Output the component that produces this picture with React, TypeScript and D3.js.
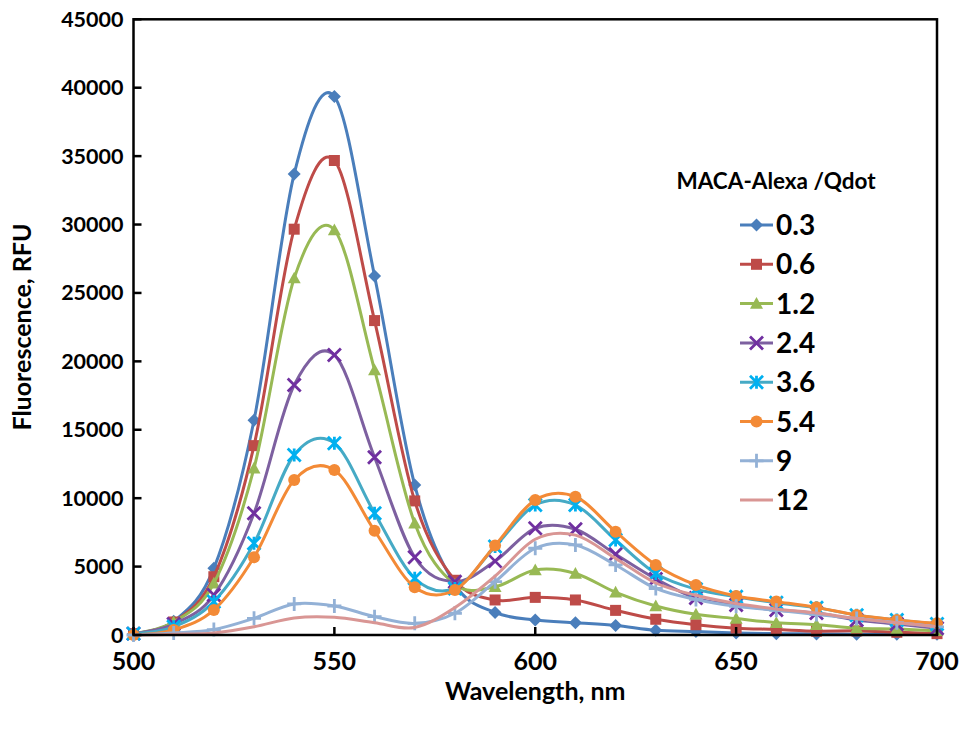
import React from "react";
import * as d3 from "d3";

const wavelengths = [500, 510, 520, 530, 540, 550, 560, 570, 580, 590, 600, 610, 620, 630, 640, 650, 660, 670, 680, 690, 700];

const s03 = [100, 1000, 4870, 15700, 33700, 39350, 26240, 10960, 3700, 1650, 1100, 900, 700, 350, 250, 150, 100, 80, 60, 50, 50];
const s06 = [100, 950, 4260, 13840, 29660, 34680, 22980, 9800, 4000, 2560, 2750, 2560, 1800, 1150, 750, 500, 400, 280, 300, 200, 100];
const s12a = [100, 950, 3780, 12190, 26080, 29600, 19370, 8170, 3700, 3530, 4750, 4500, 3120, 2120, 1510, 1200, 900, 750, 500, 440, 300];
const s24 = [100, 800, 2920, 8900, 18270, 20470, 12990, 5680, 3900, 5400, 7800, 7730, 5900, 4100, 2700, 2200, 1830, 1600, 1100, 800, 500];
const s36 = [100, 600, 2440, 6700, 13160, 14010, 8900, 4140, 3400, 6460, 9500, 9500, 6950, 4500, 3350, 2800, 2350, 2000, 1450, 1100, 800];
const s54 = [0, 370, 1830, 5680, 11330, 12060, 7620, 3490, 3290, 6550, 9870, 10110, 7550, 5120, 3660, 2850, 2440, 2020, 1460, 1100, 850];
const s9 = [0, 140, 400, 1220, 2270, 2120, 1340, 850, 1590, 3900, 6340, 6580, 5120, 3400, 2600, 2100, 1800, 1500, 1200, 900, 600];
const s12 = [0, 50, 150, 600, 1250, 1300, 900, 550, 2000, 4300, 7000, 7300, 5600, 3800, 2900, 2300, 1900, 1600, 1200, 900, 600];

const seriesNames = ["0.3", "0.6", "1.2", "2.4", "3.6", "5.4", "9", "12"];
const seriesValues = [s03, s06, s12a, s24, s36, s54, s9, s12];
const lineColors = ["#4A7EBB", "#BE4B48", "#98B954", "#7D60A0", "#46AAC5", "#F38A36", "#93B1D6", "#D99694"];
const markerColors = ["#4A7EBB", "#BE4B48", "#98B954", "#7030A0", "#00B0F0", "#F38A36", "#93B1D6", "none"];
const markerTypes = ["diamond", "square", "triangle", "x", "asterisk", "circle", "plus", "none"];

const xTicks = [500, 550, 600, 650, 700];
const yTicks = [0, 5000, 10000, 15000, 20000, 25000, 30000, 35000, 40000, 45000];

const legendTitle = "MACA-Alexa /Qdot";
const xTitle = "Wavelength, nm";
const yTitle = "Fluorescence, RFU";

const FONT = "Lato, 'Open Sans', sans-serif";

function Marker({ type, color, x, y }: { type: string; color: string; x: number; y: number }) {
  if (type === "diamond") {
    const r = 6.5;
    return <path d={`M${x},${y - r}L${x + r},${y}L${x},${y + r}L${x - r},${y}Z`} fill={color} />;
  }
  if (type === "square") {
    const r = 5.5;
    return <rect x={x - r} y={y - r} width={2 * r} height={2 * r} fill={color} />;
  }
  if (type === "triangle") {
    const r = 6.5;
    return <path d={`M${x},${y - r}L${x + r},${y + r * 0.8}L${x - r},${y + r * 0.8}Z`} fill={color} />;
  }
  if (type === "circle") {
    return <circle cx={x} cy={y} r={6} fill={color} />;
  }
  if (type === "x") {
    const r = 6.5;
    return (
      <path d={`M${x - r},${y - r}L${x + r},${y + r}M${x - r},${y + r}L${x + r},${y - r}`} stroke={color} strokeWidth={2.8} />
    );
  }
  if (type === "asterisk") {
    const r = 6.5;
    return (
      <path
        d={`M${x - r},${y - r}L${x + r},${y + r}M${x - r},${y + r}L${x + r},${y - r}M${x},${y - r}L${x},${y + r}`}
        stroke={color}
        strokeWidth={2.8}
      />
    );
  }
  if (type === "plus") {
    const r = 7;
    return <path d={`M${x - r},${y}L${x + r},${y}M${x},${y - r}L${x},${y + r}`} stroke={color} strokeWidth={2.8} />;
  }
  return null;
}

export default function App() {
  const width = 967;
  const height = 738;
  const left = 133.5;
  const right = 937;
  const top = 19.3;
  const bottom = 635;

  const x = d3.scaleLinear().domain([500, 700]).range([left, right]);
  const y = d3.scaleLinear().domain([0, 45000]).range([bottom, top]);

  const line = d3
    .line<number>()
    .x((_, i) => x(wavelengths[i]))
    .y((d) => y(d))
    .curve(d3.curveCardinal.tension(0));

  const legX = 740;
  const legY0 = 225;
  const legDy = 39.3;

  return (
    <svg
      width={width}
      height={height}
      style={{ position: "absolute", left: 0, top: 0, background: "#fff" }}
      fontFamily={FONT}
    >
      <rect x={0} y={0} width={width} height={height} fill="#fff" />
      <defs>
        <clipPath id="plotclip">
          <rect x={left - 10} y={top - 10} width={right - left + 20} height={bottom - top + 20} />
        </clipPath>
      </defs>

      {/* series */}
      <g clipPath="url(#plotclip)">
        {seriesValues.map((vals, si) => (
          <g key={seriesNames[si]}>
            <path d={line(vals) || ""} fill="none" stroke={lineColors[si]} strokeWidth={3} />
            {markerTypes[si] !== "none" &&
              vals.map((v, i) => (
                <Marker key={i} type={markerTypes[si]} color={markerColors[si]} x={x(wavelengths[i])} y={y(v)} />
              ))}
          </g>
        ))}
      </g>

      {/* frame */}
      <rect x={left} y={top} width={right - left} height={bottom - top} fill="none" stroke="#000" strokeWidth={2.5} />

      {/* y ticks */}
      {yTicks.map((t) => (
        <g key={t}>
          <line x1={left} x2={left + 8} y1={y(t)} y2={y(t)} stroke="#000" strokeWidth={2.5} />
          <text x={left - 10} y={y(t)} dy="0.35em" textAnchor="end" fontSize={21.5} fontWeight={700} fill="#000">
            {t}
          </text>
        </g>
      ))}

      {/* x ticks */}
      {xTicks.map((t) => (
        <g key={t}>
          <line x1={x(t)} x2={x(t)} y1={bottom} y2={bottom - 8} stroke="#000" strokeWidth={2.5} />
          <text x={x(t)} y={bottom + 26} dy="0.35em" textAnchor="middle" fontSize={25} fontWeight={700} fill="#000">
            {t}
          </text>
        </g>
      ))}

      <text x={(left + right) / 2} y={691} dy="0.35em" textAnchor="middle" fontSize={25} fontWeight={700} fill="#000">
        {xTitle}
      </text>
      <text
        transform={`translate(22,${327}) rotate(-90)`}
        dy="0.35em"
        textAnchor="middle"
        fontSize={25}
        fontWeight={700}
        fill="#000"
      >
        {yTitle}
      </text>

      {/* legend */}
      <text x={776} y={181} dy="0.35em" textAnchor="middle" fontSize={22.5} fontWeight={700} fill="#000">
        {legendTitle}
      </text>
      {seriesNames.map((n, si) => {
        const ly = legY0 + si * legDy;
        return (
          <g key={n}>
            <line x1={legX} x2={legX + 33} y1={ly} y2={ly} stroke={lineColors[si]} strokeWidth={3} />
            {markerTypes[si] !== "none" && (
              <Marker type={markerTypes[si]} color={markerColors[si]} x={legX + 16.5} y={ly} />
            )}
            <text x={legX + 36} y={ly} dy="0.36em" fontSize={28} fontWeight={700} fill="#000">
              {n}
            </text>
          </g>
        );
      })}
    </svg>
  );
}
